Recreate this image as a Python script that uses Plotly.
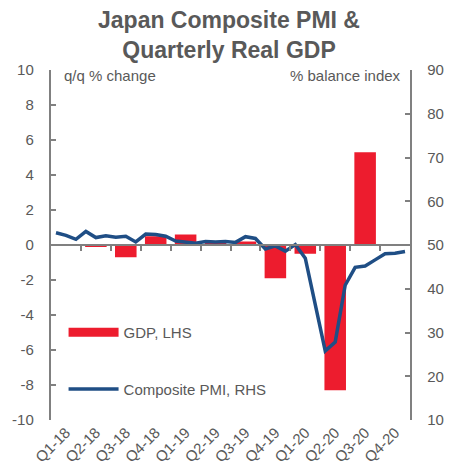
import plotly.graph_objects as go

quarters = ["Q1-18", "Q2-18", "Q3-18", "Q4-18", "Q1-19", "Q2-19",
            "Q3-19", "Q4-19", "Q1-20", "Q2-20", "Q3-20", "Q4-20"]
gdp = [0.0, -0.1, -0.7, 0.5, 0.6, 0.1, 0.2, -1.9, -0.5, -8.3, 5.3, None]
pmi = [52.8, 52.2, 51.3, 53.1, 51.7, 52.1, 51.8, 52.0, 50.7, 52.5, 52.4, 52.0,
       50.9, 50.7, 50.4, 50.8, 50.7, 50.8, 50.6, 51.9, 51.5, 49.1, 49.8, 48.6,
       50.1, 47.0, 36.2, 25.8, 27.8, 40.8, 44.9, 45.2, 46.6, 48.0, 48.1, 48.5]
left_ticks = [-10, -8, -6, -4, -2, 0, 2, 4, 6, 8, 10]
right_ticks = [10, 20, 30, 40, 50, 60, 70, 80, 90]

RED = "#ED1C2E"
BLUE = "#1F4E85"
GREY = "#595959"
AX = "#808080"
FONT = "Liberation Sans, Arial, sans-serif"
NB = "\u00a0"

qx = [i + 0.5 for i in range(len(quarters))]
mx = [j + 0.5 for j in range(len(pmi))]

fig = go.Figure()
fig.add_trace(go.Bar(x=qx, y=gdp, marker_color=RED, marker_line_width=0,
                     width=0.72, xaxis="x", yaxis="y", showlegend=False))
fig.add_trace(go.Scatter(x=[None], y=[None], mode="lines",
                         line=dict(color=RED, width=9), name="GDP, LHS",
                         legend="legend", xaxis="x", yaxis="y"))
fig.add_trace(go.Scatter(x=mx, y=pmi, mode="lines",
                         line=dict(color=BLUE, width=3.5),
                         name="Composite PMI, RHS", legend="legend2",
                         xaxis="x2", yaxis="y2"))

fig.update_layout(
    width=458, height=469,
    margin=dict(l=51, r=48, t=70, b=49, autoexpand=False),
    paper_bgcolor="white", plot_bgcolor="white",
    font=dict(family=FONT, size=14, color=GREY),
    title=dict(text="<b>Japan Composite PMI &<br>Quarterly Real GDP</b>",
               x=0.5, xref="container", xanchor="center",
               y=0.94, yref="container", yanchor="middle",
               font=dict(size=23, color=GREY, family=FONT)),
    xaxis=dict(range=[0, 12], tickvals=list(range(1, 12)), ticks="outside",
               ticklen=5, tickcolor=AX, tickwidth=1.5, showticklabels=False,
               showline=True, linecolor=AX, linewidth=1.5, showgrid=False,
               zeroline=False, anchor="free", position=0.5, automargin=False),
    xaxis2=dict(range=[0, 36], overlaying="x", side="bottom", anchor="free",
                position=0, tickvals=[3 * i + 1.5 for i in range(len(quarters))],
                ticktext=quarters, tickangle=-45, ticks="", showline=False,
                showgrid=False, zeroline=False, automargin=False,
                tickfont=dict(size=15, color=GREY)),
    yaxis=dict(range=[-10, 10], tickvals=left_ticks,
               ticktext=[str(v) + NB * 3 for v in left_ticks], ticks="inside",
               ticklen=5, tickcolor=AX, tickwidth=1.5, showline=True,
               linecolor=AX, linewidth=1.5, showgrid=False, zeroline=False,
               automargin=False, tickfont=dict(size=15, color=GREY)),
    yaxis2=dict(range=[10, 90], tickvals=right_ticks,
                ticktext=[NB * 3 + str(v) for v in right_ticks], ticks="inside",
                ticklen=5, tickcolor=AX, tickwidth=1.5, showline=True,
                linecolor=AX, linewidth=1.5, showgrid=False, zeroline=False,
                overlaying="y", side="right", anchor="x", automargin=False,
                tickfont=dict(size=15, color=GREY)),
    legend=dict(x=0.035, y=0.25, xanchor="left", yanchor="middle",
                bgcolor="rgba(0,0,0,0)", itemwidth=50,
                font=dict(size=15, color=GREY)),
    legend2=dict(x=0.035, y=0.088, xanchor="left", yanchor="middle",
                 bgcolor="rgba(0,0,0,0)", itemwidth=50,
                 font=dict(size=15, color=GREY)),
    annotations=[
        dict(text="q/q % change", x=0.03, y=0.985, xref="paper", yref="paper",
             xanchor="left", yanchor="middle", showarrow=False,
             font=dict(size=15, color=GREY)),
        dict(text="% balance index", x=0.98, y=0.985, xref="paper", yref="paper",
             xanchor="right", yanchor="middle", showarrow=False,
             font=dict(size=15, color=GREY)),
    ],
)

fig.write_html("out.html")
